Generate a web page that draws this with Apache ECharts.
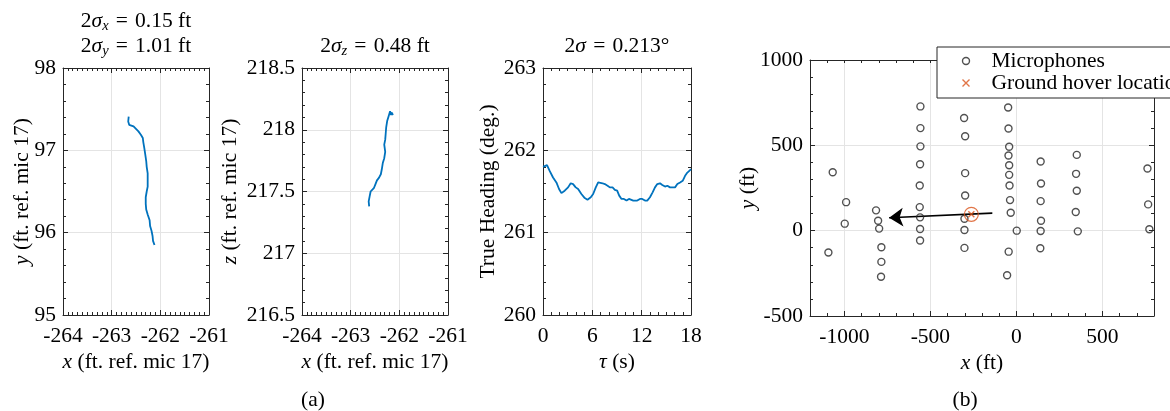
<!DOCTYPE html>
<html>
<head>
<meta charset="utf-8">
<script src="https://cdn.jsdelivr.net/npm/echarts@6/dist/echarts.min.js"></script>
<style>
  html, body { margin: 0; padding: 0; background: #fff; }
  #chart { width: 1170px; height: 411px; }
</style>
</head>
<body>
<div id="chart"></div>
<script>
// Hover trace in the horizontal plane, x vs y (ft, relative to mic 17)
const trackX = [-262.65, -262.66, -262.64, -262.60, -262.55, -262.50, -262.45, -262.40, -262.36, -262.35,
                -262.33, -262.31, -262.29, -262.28, -262.26, -262.26, -262.26, -262.28, -262.30, -262.30,
                -262.29, -262.26, -262.22, -262.21, -262.18, -262.16, -262.15, -262.12];
const trackY = [97.41, 97.35, 97.31, 97.30, 97.29, 97.26, 97.23, 97.19, 97.15, 97.10,
                97.03, 96.95, 96.87, 96.80, 96.72, 96.64, 96.56, 96.50, 96.43, 96.35,
                96.28, 96.22, 96.15, 96.08, 96.02, 95.96, 95.90, 95.85];

// Hover trace in the vertical plane, x vs z
const trackXz = [-262.62, -262.63, -262.61, -262.59, -262.55, -262.52, -262.49, -262.46, -262.42, -262.38,
                 -262.36, -262.34, -262.31, -262.29, -262.31, -262.29, -262.28, -262.27, -262.25, -262.22,
                 -262.19, -262.17, -262.14, -262.16, -262.13];
const trackZ = [217.38, 217.42, 217.46, 217.50, 217.51, 217.53, 217.56, 217.59, 217.61, 217.64,
                217.68, 217.73, 217.77, 217.82, 217.88, 217.92, 217.97, 218.02, 218.07, 218.11,
                218.15, 218.12, 218.11, 218.14, 218.12];

// True heading over the hover window
const tau = [0, 0.08, 0.49, 0.81, 1.22, 1.63, 1.95, 2.24, 2.64, 3.05, 3.37, 3.66, 3.98, 4.27, 4.67, 5.08,
             5.41, 5.81, 6.10, 6.42, 6.71, 6.91, 7.24, 7.52, 7.85, 8.13, 8.46, 8.74, 9.02, 9.27, 9.55,
             9.84, 10.16, 10.45, 10.69, 10.98, 11.18, 11.46, 11.79, 12.07, 12.40, 12.68, 13.01, 13.33,
             13.62, 13.90, 14.23, 14.51, 14.84, 15.12, 15.45, 15.77, 16.06, 16.34, 16.67, 16.99, 17.28,
             17.56, 17.89, 18.0];
const heading = [261.80, 261.81, 261.82, 261.75, 261.67, 261.61, 261.53, 261.48, 261.51, 261.55, 261.60,
                 261.59, 261.55, 261.53, 261.47, 261.42, 261.40, 261.43, 261.47, 261.55, 261.61, 261.59,
                 261.60, 261.59, 261.57, 261.55, 261.55, 261.52, 261.51, 261.45, 261.41, 261.41, 261.39,
                 261.41, 261.43, 261.39, 261.37, 261.39, 261.41, 261.41, 261.39, 261.39, 261.43, 261.49,
                 261.55, 261.59, 261.60, 261.58, 261.56, 261.57, 261.55, 261.55, 261.55, 261.59, 261.61,
                 261.63, 261.69, 261.73, 261.76, 261.77];

// Microphone array layout (ft)
const micX = [-1068, -1093,
              -990, -998,
              -816, -804, -798, -785, -785, -787,
              -558, -558, -558, -560, -562, -562, -560, -560, -560,
              -304, -298, -298, -298, -302, -302, -302,
              -48, -46, -42, -46, -42, -42, -40, -37, -33, 2, -45, -54,
              141, 143, 141, 143, 141, 139,
              351, 347, 351, 345, 357,
              762, 766, 773];
const micY = [342, -128,
              167, 41,
              119, 58, 12, -97, -183, -270,
              728, 601, 494, 389, 265, 138, 78, 10, -58,
              660, 553, 337, 206, 70, 4, -101,
              722, 599, 492, 440, 383, 327, 265, 179, 105, 0, -123, -261,
              405, 276, 173, 58, -2, -103,
              444, 333, 234, 109, -4,
              364, 154, 8];

// Ground hover location and flight direction (ft)
const hoverX = [-262];
const hoverY = [96];
const arrowStart = [-140, 103];
const arrowEnd = [-740, 76];

const FONT = "'Liberation Serif', 'DejaVu Serif', serif";
const INK = '#262626';
const BLUE = '#0072BD';
const ORANGE = '#D95319';
const FS = 21.5;
const SP = '\u2004'; // wider spacing around relations, as in typeset math

const zip = (a, b) => a.map((v, i) => [v, b[i]]);
const plain = v => String(v);

const italic = { fontFamily: FONT, fontSize: FS, fontStyle: 'italic', color: '#000' };
const nameStyle = { fontFamily: FONT, fontSize: FS, color: '#000', rich: { i: italic } };

function primaryAxis(kind, grid, o) {
  return {
    type: 'value', gridIndex: grid, position: kind === 'x' ? 'bottom' : 'left',
    min: o.min, max: o.max, interval: o.interval,
    minInterval: o.minInterval, maxInterval: o.maxInterval,
    axisLine: { show: true, onZero: false, lineStyle: { color: INK, width: 1 } },
    axisTick: { show: true, inside: true, length: 5, lineStyle: { color: INK, width: 1 } },
    minorTick: { show: o.minor > 0, splitNumber: o.minor || 5, length: 3, lineStyle: { color: INK, width: 1 } },
    axisLabel: Object.assign({ color: '#000', fontFamily: FONT, fontSize: FS, margin: kind === 'x' ? 10 : 7,
                               formatter: plain },
                             o.hideEnds ? { showMinLabel: false, showMaxLabel: false } : {}),
    splitLine: { show: true, lineStyle: { color: '#e4e4e4', width: 1 } },
    name: o.name, nameLocation: 'middle', nameGap: o.nameGap, nameMoveOverlap: false,
    nameTextStyle: nameStyle
  };
}

function mirrorAxis(kind, grid, o) {
  return {
    type: 'value', gridIndex: grid, position: kind === 'x' ? 'top' : 'right',
    min: o.min, max: o.max, interval: o.interval,
    axisLine: { show: true, onZero: false, lineStyle: { color: INK, width: 1 } },
    axisTick: { show: true, inside: true, length: o.tickLen || 5, lineStyle: { color: INK, width: 1 } },
    minorTick: { show: o.minor > 0, splitNumber: o.minor || 5, length: 3, lineStyle: { color: INK, width: 1 } },
    axisLabel: { show: false },
    splitLine: { show: false }
  };
}

const gridsPos = [
  { left: 63, width: 146, top: 68, height: 247 },
  { left: 302, width: 146, top: 68, height: 247 },
  { left: 543, width: 148, top: 68, height: 247 },
  { left: 810, width: 344, top: 60, height: 256 }
];

const xa1 = { min: -264, max: -261, interval: 1, minor: 10, name: '{i|x} (ft. ref. mic 17)', nameGap: 36 };
const ya1 = { min: 95, max: 98, interval: 1, minor: 5, name: '{i|y} (ft. ref. mic 17)', nameGap: 30 };
const xa2 = { min: -264, max: -261, interval: 1, minor: 10, name: '{i|x} (ft. ref. mic 17)', nameGap: 36 };
const ya2 = { min: 216.5, max: 218.5, interval: 0.5, minor: 5, name: '{i|z} (ft. ref. mic 17)', nameGap: 61 };
const xa3 = { min: 0, max: 18, interval: 6, minor: 6, name: '{i|τ} (s)', nameGap: 36 };
const ya3 = { min: 260, max: 263, interval: 1, minor: 5, name: 'True Heading (deg.)', nameGap: 44 };
const xa4 = { min: -1200, max: 800, minInterval: 500, maxInterval: 500, minor: 0, hideEnds: true,
              name: '{i|x} (ft)', nameGap: 36 };
const ya4 = { min: -500, max: 1000, interval: 500, minor: 5, name: '{i|y} (ft)', nameGap: 51 };

const xAxis = [
  primaryAxis('x', 0, xa1), mirrorAxis('x', 0, xa1),
  primaryAxis('x', 1, xa2), mirrorAxis('x', 1, xa2),
  primaryAxis('x', 2, xa3), mirrorAxis('x', 2, xa3),
  primaryAxis('x', 3, xa4),
  mirrorAxis('x', 3, { min: -1200, max: 800, interval: 100, minor: 0, tickLen: 3 }),
  // minor ticks of the array map's x axis, every 100 ft
  {
    type: 'value', gridIndex: 3, position: 'bottom', min: -1200, max: 800, interval: 100,
    axisLine: { show: false, onZero: false }, axisLabel: { show: false }, splitLine: { show: false },
    axisTick: { show: true, inside: true, length: 3, lineStyle: { color: INK, width: 1 } }
  }
];
const yAxis = [
  primaryAxis('y', 0, ya1), mirrorAxis('y', 0, ya1),
  primaryAxis('y', 1, ya2), mirrorAxis('y', 1, ya2),
  primaryAxis('y', 2, ya3), mirrorAxis('y', 2, ya3),
  primaryAxis('y', 3, ya4), mirrorAxis('y', 3, ya4)
];

const traceLine = { color: BLUE, width: 1.8 };
const X_MARK = 'path://M0,0L10,10M0,10L10,0';

const titleRich = {
  s: { fontFamily: FONT, fontSize: FS, fontStyle: 'italic', lineHeight: 26, verticalAlign: 'middle' },
  sub: { fontFamily: FONT, fontSize: 14.5, fontStyle: 'italic', lineHeight: 13, verticalAlign: 'bottom' }
};
function label(x, y, text) {
  return {
    type: 'text', x: x, y: y, silent: true,
    style: { text: text, rich: titleRich, fontFamily: FONT, fontSize: FS, lineHeight: 26,
             fill: '#000', align: 'center', verticalAlign: 'middle' }
  };
}
const eq = SP + '=' + SP;

const option = {
  animation: false,
  backgroundColor: '#fff',
  grid: gridsPos.map(g => Object.assign({ containLabel: false, outerBoundsMode: 'none' }, g)),
  xAxis: xAxis,
  yAxis: yAxis,
  legend: {
    left: 937, top: 47, orient: 'vertical',
    backgroundColor: '#fff', borderColor: INK, borderWidth: 1, borderRadius: 0,
    padding: [3, 20, 4, 23], itemGap: 0, itemWidth: 7, itemHeight: 7,
    selectedMode: false,
    textStyle: { fontFamily: FONT, fontSize: FS, color: '#000', lineHeight: 22, padding: [0, 0, 0, 17] },
    data: [
      { name: 'Microphones', icon: 'circle',
        itemStyle: { color: '#fff', borderColor: INK, borderWidth: 1.4 } },
      { name: 'Ground hover location', icon: X_MARK,
        itemStyle: { color: 'none', borderColor: ORANGE, borderWidth: 1.4 } }
    ]
  },
  graphic: [
    label(136, 21, '2{s|σ}{sub|x}' + eq + '0.15 ft'),
    label(136, 46, '2{s|σ}{sub|y}' + eq + '1.01 ft'),
    label(375, 46, '2{s|σ}{sub|z}' + eq + '0.48 ft'),
    label(617, 46, '2{s|σ}' + eq + '0.213°'),
    label(313, 400, '(a)'),
    label(965, 400, '(b)')
  ],
  series: [
    { type: 'line', xAxisIndex: 0, yAxisIndex: 0, data: zip(trackX, trackY),
      showSymbol: false, lineStyle: traceLine, silent: true },
    { type: 'line', xAxisIndex: 2, yAxisIndex: 2, data: zip(trackXz, trackZ),
      showSymbol: false, lineStyle: traceLine, silent: true },
    { type: 'line', xAxisIndex: 4, yAxisIndex: 4, data: zip(tau, heading),
      showSymbol: false, lineStyle: traceLine, silent: true },
    { type: 'scatter', name: 'Microphones', xAxisIndex: 6, yAxisIndex: 6, data: zip(micX, micY),
      symbol: 'circle', symbolSize: 7, silent: true,
      itemStyle: { color: 'rgba(0,0,0,0)', borderColor: INK, borderWidth: 1.4 } },
    { type: 'lines', coordinateSystem: 'cartesian2d', xAxisIndex: 6, yAxisIndex: 6,
      data: [{ coords: [arrowStart, arrowEnd] }],
      symbol: ['none', 'arrow'], symbolSize: [0, 14], silent: true,
      lineStyle: { color: '#000', width: 1.6, opacity: 1, curveness: 0 } },
    { type: 'scatter', name: 'Ground hover location', xAxisIndex: 6, yAxisIndex: 6,
      data: zip(hoverX, hoverY), symbol: X_MARK, symbolSize: 6, silent: true,
      itemStyle: { color: 'none', borderColor: ORANGE, borderWidth: 1.4 } },
    { type: 'scatter', xAxisIndex: 6, yAxisIndex: 6, data: zip(hoverX, hoverY),
      symbol: 'circle', symbolSize: 14, silent: true,
      itemStyle: { color: 'rgba(0,0,0,0)', borderColor: ORANGE, borderWidth: 1.2 } }
  ]
};

const chart = echarts.init(document.getElementById('chart'), null, { renderer: 'canvas' });
chart.setOption(option);
</script>
</body>
</html>
